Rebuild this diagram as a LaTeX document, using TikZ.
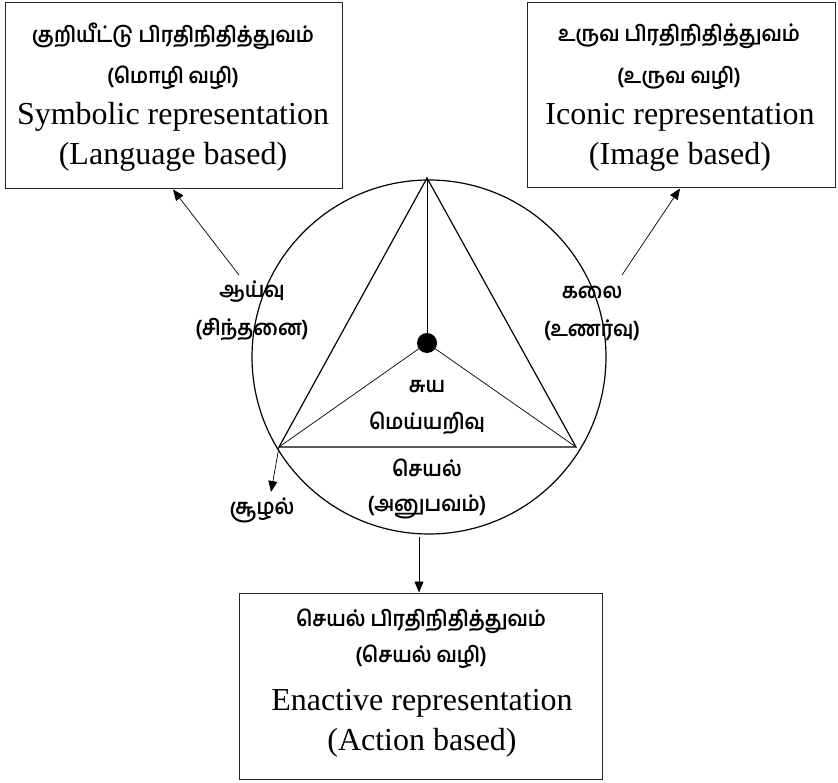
\documentclass[tikz,border=0pt]{standalone}
\usepackage{fontspec}
\setmainfont{Liberation Serif}
\newfontfamily\tamil[Script=Tamil,UprightFont=* SemiBold,FakeStretch=0.92]{Hind Madurai}
\usetikzlibrary{arrows.meta}
\begin{document}
\begin{tikzpicture}[x=1pt,y=-1pt,
  box/.style={draw=black!85,line width=1pt,inner sep=0pt},
  ta/.style={font=\tamil\fontsize{21.5}{24}\selectfont,inner sep=0pt},
  en/.style={font=\fontsize{32}{36}\selectfont,inner sep=0pt,anchor=base},
  arr/.style={line width=0.7pt,-{Triangle[length=11pt,width=9pt]}},
  thick1/.style={line width=1.2pt},
  thin1/.style={line width=0.7pt}]
\useasboundingbox (0,0) rectangle (838,783);
% boxes
\node[box,minimum width=337pt,minimum height=186pt] (sym) at (173.5,96) {};
\node[box,minimum width=308pt,minimum height=185pt] (ico) at (681,95.5) {};
\node[box,minimum width=363pt,minimum height=186pt] (ena) at (420.5,686) {};
% box texts
\node[ta] (s1) at (173,36) {குறியீட்டு பிரதிநிதித்துவம்};
\node[ta] (s2) at (173,78) {(மொழி வழி)};
\node[en] (s3) at (173,125) {Symbolic representation};
\node[en] (s4) at (173,165) {(Language based)};
\node[ta] (i1) at (679,36) {உருவ பிரதிநிதித்துவம்};
\node[ta] (i2) at (679,78) {(உருவ வழி)};
\node[en] (i3) at (680,125) {Iconic representation};
\node[en] (i4) at (680,165) {(Image based)};
\node[ta] (e1) at (421,621) {செயல் பிரதிநிதித்துவம்};
\node[ta] (e2) at (421,657) {(செயல் வழி)};
\node[en] (e3) at (422,710) {Enactive representation};
\node[en] (e4) at (422,750) {(Action based)};
% circle and triangle
\node[circle,draw,thick1,minimum size=354pt,inner sep=0pt] (c) at (429,357) {};
\coordinate (T) at (427,178);
\coordinate (L) at (279,447);
\coordinate (R) at (576,447);
\node[circle,fill=black,minimum size=20pt,inner sep=0pt] (dot) at (427,343) {};
\draw[thick1,line join=miter] (T) -- (L) -- (R) -- cycle;
\draw[line width=1pt] (T) -- (dot.center);
\draw[thin1] (L) -- (dot.center) -- (R);
% labels
\node[ta] (a1) at (252,292) {ஆய்வு};
\node[ta] (a2) at (252,330) {(சிந்தனை)};
\node[ta] (k1) at (592,292) {கலை};
\node[ta] (k2) at (592,330) {(உணர்வு)};
\node[ta] (m1) at (427,387) {சுய};
\node[ta] (m2) at (427,423) {மெய்யறிவு};
\node[ta] (c1) at (427,468) {செயல்};
\node[ta] (c2) at (427,507) {(அனுபவம்)};
\node[ta] (z) at (262,510) {சூழல்};
% arrows
\coordinate (sA) at (239,275);
\coordinate (sB) at (173,189.5);
\coordinate (iA) at (622,275);
\coordinate (iB) at (680,188.5);
\coordinate (eA) at (419,537);
\coordinate (eB) at (419,592.5);
\coordinate (zB) at (271,492);
\draw[arr] (sA) -- (sB);
\draw[arr] (iA) -- (iB);
\draw[arr] (eA) -- (eB);
\draw[arr] (L) -- (zB);
\end{tikzpicture}
\end{document}
